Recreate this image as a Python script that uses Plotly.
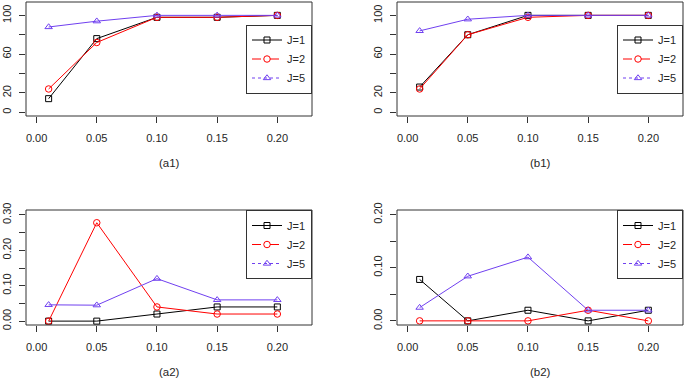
import plotly.graph_objects as go

# ---- data ----
x_vals = [0.01, 0.05, 0.10, 0.15, 0.20]
series_names = ["J=1", "J=2", "J=5"]

a1_J1 = [14, 76, 98, 98, 100]
a1_J2 = [24, 72, 98, 98, 100]
a1_J5 = [88, 94, 100, 100, 100]

b1_J1 = [26, 80, 100, 100, 100]
b1_J2 = [24, 80, 98, 100, 100]
b1_J5 = [84, 96, 100, 100, 100]

a2_J1 = [0.0, 0.0, 0.02, 0.04, 0.04]
a2_J2 = [0.0, 0.278, 0.04, 0.02, 0.02]
a2_J5 = [0.046, 0.045, 0.12, 0.06, 0.06]

b2_J1 = [0.078, 0.0, 0.02, 0.0, 0.02]
b2_J2 = [0.0, 0.0, 0.0, 0.02, 0.0]
b2_J5 = [0.025, 0.084, 0.12, 0.02, 0.02]

x_ticks = [0.00, 0.05, 0.10, 0.15, 0.20]
x_ticktext = ["0.00", "0.05", "0.10", "0.15", "0.20"]
top_yticks = [0, 20, 40, 60, 80, 100]
top_yticktext = ["0", "20", "", "60", "", "100"]
a2_yticks = [0.0, 0.05, 0.10, 0.15, 0.20, 0.25, 0.30]
a2_yticktext = ["0.00", "", "0.10", "", "0.20", "", "0.30"]
b2_yticks = [0.0, 0.05, 0.10, 0.15, 0.20]
b2_yticktext = ["0.00", "", "0.10", "", "0.20"]
panel_titles = ["(a1)", "(b1)", "(a2)", "(b2)"]

# ---- styles ----
colors = ["black", "#FF0000", "#7040F0"]
symbols = ["square-open", "circle-open", "triangle-up-open"]
msizes = [6, 6.5, 6.5]
legend_dash = ["solid", "dash", "dot"]
FONT = "Liberation Sans, Arial, sans-serif"
TXT = "#262626"

W, H = 685, 379
def px_x(p): return p / W
def px_y(p): return 1 - p / H

panels = [
    dict(data=[a1_J1, a1_J2, a1_J5], xd=[26, 312], yd=[2, 116], yr=[-3.9, 113.8],
         yt=top_yticks, ytt=top_yticktext, title_y=163, leg="right"),
    dict(data=[b1_J1, b1_J2, b1_J5], xd=[397, 683], yd=[2, 116], yr=[-3.9, 113.8],
         yt=top_yticks, ytt=top_yticktext, title_y=163, leg="right"),
    dict(data=[a2_J1, a2_J2, a2_J5], xd=[26, 312], yd=[210, 325], yr=[-0.011, 0.314],
         yt=a2_yticks, ytt=a2_yticktext, title_y=372, leg="top"),
    dict(data=[b2_J1, b2_J2, b2_J5], xd=[397, 683], yd=[210, 325], yr=[-0.0078, 0.2088],
         yt=b2_yticks, ytt=b2_yticktext, title_y=372, leg="top"),
]

fig = go.Figure()
layout = dict(
    width=W, height=H, margin=dict(l=0, r=0, t=0, b=0, pad=0),
    paper_bgcolor="white", plot_bgcolor="white",
    font=dict(family=FONT, size=11, color=TXT),
    shapes=[], annotations=[],
)

for i, p in enumerate(panels):
    n = i + 1
    xa = "x" if n == 1 else f"x{n}"
    ya = "y" if n == 1 else f"y{n}"
    legname = "legend" if n == 1 else f"legend{n}"
    for k in range(3):
        fig.add_trace(go.Scatter(
            x=x_vals, y=p["data"][k], mode="lines+markers", xaxis=xa, yaxis=ya,
            line=dict(color=colors[k], width=1),
            marker=dict(symbol=symbols[k], size=msizes[k], color=colors[k], line=dict(width=1, color=colors[k])),
            showlegend=False, cliponaxis=False, name=series_names[k]))
    for k in range(3):
        fig.add_trace(go.Scatter(
            x=[None], y=[None], mode="lines+markers", xaxis=xa, yaxis=ya,
            line=dict(color=colors[k], width=1, dash=legend_dash[k]),
            marker=dict(symbol=symbols[k], size=msizes[k], color=colors[k], line=dict(width=1, color=colors[k])),
            showlegend=True, legend=legname, name=series_names[k]))
    axkey_x = "xaxis" if n == 1 else f"xaxis{n}"
    axkey_y = "yaxis" if n == 1 else f"yaxis{n}"
    layout[axkey_x] = dict(
        domain=[px_x(p["xd"][0]), px_x(p["xd"][1])], range=[-0.0088, 0.2288],
        anchor=ya, showgrid=False, zeroline=False, showline=False, automargin=False,
        tickmode="array", tickvals=x_ticks, ticktext=x_ticktext,
        ticks="outside", ticklen=6, tickwidth=1, tickcolor="#333333", ticklabelstandoff=6,
        tickfont=dict(size=11, family=FONT, color=TXT), fixedrange=True)
    layout[axkey_y] = dict(
        domain=[px_y(p["yd"][1]), px_y(p["yd"][0])], range=p["yr"],
        anchor=xa, showgrid=False, zeroline=False, showline=False, automargin=False,
        tickmode="array", tickvals=p["yt"], ticktext=p["ytt"], tickangle=-90,
        ticks="outside", ticklen=6, tickwidth=1, tickcolor="#333333", ticklabelstandoff=4,
        tickfont=dict(size=11, family=FONT, color=TXT), fixedrange=True)
    # plot box
    layout["shapes"].append(dict(
        type="rect", xref=f"{xa} domain", yref=f"{ya} domain", x0=0, x1=1, y0=0, y1=1,
        line=dict(color="#333333", width=1), layer="above"))
    # panel title
    layout["annotations"].append(dict(
        text=panel_titles[i], xref="paper", yref="paper",
        x=px_x((p["xd"][0] + p["xd"][1]) / 2), y=px_y(p["title_y"]),
        xanchor="center", yanchor="middle", showarrow=False,
        font=dict(size=11.5, family=FONT, color=TXT)))
    # legend
    if p["leg"] == "right":
        ly, lya = px_y((p["yd"][0] + p["yd"][1]) / 2), "middle"
    else:
        ly, lya = px_y(p["yd"][0]), "top"
    layout[legname] = dict(
        x=px_x(p["xd"][1]), xanchor="right", y=ly, yanchor=lya,
        bgcolor="white", bordercolor="#333333", borderwidth=1,
        font=dict(size=11, family=FONT, color=TXT),
        itemwidth=30, tracegroupgap=0, traceorder="normal")

fig.update_layout(**layout)
fig.write_html(
    "out.html",
    config={"displayModeBar": False},
    post_script="document.body.style.margin='0';document.body.style.padding='0';",
)
